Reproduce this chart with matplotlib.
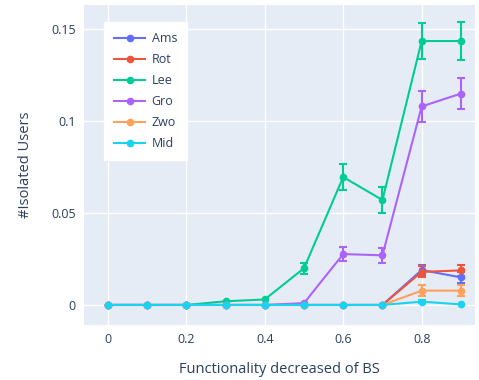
import numpy as np
import matplotlib.pyplot as plt
from matplotlib.lines import Line2D

plt.rcParams['font.family'] = ['Open Sans', 'DejaVu Sans']

# fraction of base-station functionality removed
x_vals = [0, 0.1, 0.2, 0.3, 0.4, 0.5, 0.6, 0.7, 0.8, 0.9]

city_names = ["Ams", "Rot", "Lee", "Gro", "Zwo", "Mid"]
city_colors = ["#636efa", "#EF553B", "#00cc96", "#ab63fa", "#FFA15A", "#19d3f3"]

ams_mean = [0, 0, 0, 0, 0, 0, 0, 0, 0.019, 0.015]
ams_err = [0, 0, 0, 0, 0, 0, 0, 0, 0.0025, 0.003]
rot_mean = [0, 0, 0, 0, 0, 0, 0, 0, 0.018, 0.0188]
rot_err = [0, 0, 0, 0, 0, 0, 0, 0, 0.003, 0.003]
lee_mean = [0, 0, 0, 0.002, 0.003, 0.020, 0.0696, 0.0571, 0.1436, 0.1436]
lee_err = [0, 0, 0, 0, 0, 0.003, 0.0073, 0.007, 0.010, 0.0103]
gro_mean = [0, 0, 0, 0, 0, 0.001, 0.0277, 0.027, 0.108, 0.115]
gro_err = [0, 0, 0, 0, 0, 0, 0.004, 0.004, 0.0085, 0.0085]
zwo_mean = [0, 0, 0, 0, 0, 0, 0, 0, 0.0078, 0.0078]
zwo_err = [0, 0, 0, 0, 0, 0, 0, 0, 0.003, 0.003]
mid_mean = [0, 0, 0, 0, 0, 0, 0, 0, 0.0018, 0.0003]
mid_err = [0, 0, 0, 0, 0, 0, 0, 0, 0.001, 0]

means = [ams_mean, rot_mean, lee_mean, gro_mean, zwo_mean, mid_mean]
errs = [ams_err, rot_err, lee_err, gro_err, zwo_err, mid_err]

x_ticks = [0, 0.2, 0.4, 0.6, 0.8]
x_tick_labels = ["0", "0.2", "0.4", "0.6", "0.8"]
y_ticks = [0, 0.05, 0.1, 0.15]
y_tick_labels = ["0", "0.05", "0.1", "0.15"]

TEXT_COLOR = "#2a3f5f"
BG_COLOR = "#E5ECF6"

fig = plt.figure(figsize=(4.79, 3.80), dpi=100)
ax = fig.add_axes([84 / 479, 1 - 325 / 380, 391 / 479, 320 / 380])
ax.set_facecolor(BG_COLOR)

handles = []
for name, color, m, e in zip(city_names, city_colors, means, errs):
    e = np.asarray(e, dtype=float)
    ax.errorbar(x_vals, m, yerr=np.where(e > 0, e, np.nan), color=color,
                linewidth=1.5, marker='o', markersize=4.5, elinewidth=1.5,
                capsize=3, capthick=1.5, zorder=3)
    handles.append(Line2D([], [], color=color, linewidth=1.5, marker='o',
                          markersize=4.5, label=name))

ax.set_xlim(-0.061, 0.936)
ax.set_ylim(-0.0109, 0.1632)
ax.set_xticks(x_ticks)
ax.set_xticklabels(x_tick_labels)
ax.set_yticks(y_ticks)
ax.set_yticklabels(y_tick_labels)
ax.grid(True, color="white", linewidth=1.0, zorder=0)
ax.set_axisbelow(True)
for sp in ax.spines.values():
    sp.set_visible(False)
ax.tick_params(length=0, labelsize=9, colors=TEXT_COLOR, pad=6)

ax.set_xlabel("Functionality decreased of BS", fontsize=10.5, color=TEXT_COLOR, labelpad=11)
ax.set_ylabel("#Isolated Users", fontsize=10.5, color=TEXT_COLOR, labelpad=13)

leg = ax.legend(handles=handles, loc="upper left",
                bbox_to_anchor=(20 / 391, 1 - 17 / 320),
                frameon=True, fancybox=False, fontsize=9, handlelength=2.5,
                handletextpad=0.5, labelspacing=0.64, borderpad=0.8,
                borderaxespad=0, labelcolor=TEXT_COLOR)
leg.get_frame().set_facecolor("white")
leg.get_frame().set_edgecolor("white")
leg.get_frame().set_alpha(1)

fig.savefig("out.png", dpi=100)
